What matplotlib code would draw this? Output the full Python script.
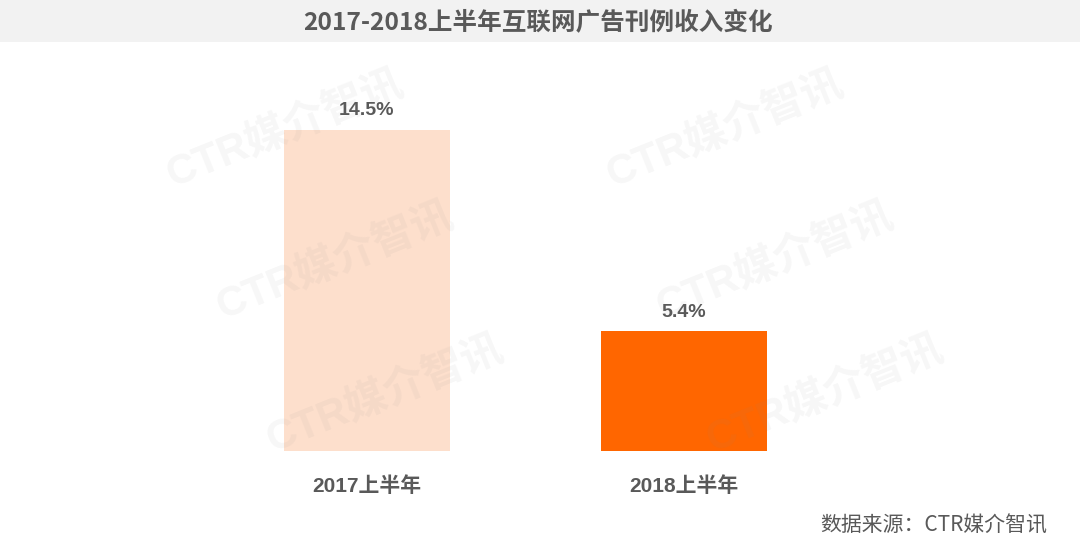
import matplotlib
matplotlib.use("Agg")
import matplotlib.pyplot as plt
from matplotlib.patches import Rectangle

plt.rcParams['font.family'] = ['Liberation Sans', 'Noto Sans CJK SC', 'DejaVu Sans']

title = "2017-2018上半年互联网广告刊例收入变化"
categories = ["2017上半年", "2018上半年"]
values = [14.5, 5.4]
value_labels = ["14.5%", "5.4%"]
bar_colors = ["#FDDFCC", "#FF6600"]
source = "数据来源：CTR媒介智讯"
watermark = "CTR媒介智讯"

W, H = 1080, 554
fig = plt.figure(figsize=(W / 100, H / 100), dpi=100)
fig.patch.set_facecolor("white")

# Title band
fig.patches.append(Rectangle((0, 1 - 42 / H), 1, 42 / H, transform=fig.transFigure,
                             facecolor="#F2F2F2", edgecolor="none", zorder=0))
fig.text(538 / W, 1 - 23 / H, title, ha="center", va="center", fontsize=17.7,
         fontweight="bold", color="#595959", family=['Noto Sans CJK SC', 'DejaVu Sans'])

# Axes geometry
spacing = 316.5
left_px = 367 - 0.7 * spacing
bottom_px = 451
top_px = 60
px_per_unit = (451 - 130) / 14.5
ax = fig.add_axes([left_px / W, (H - bottom_px) / H, 2.4 * spacing / W, (bottom_px - top_px) / H])
ax.set_xlim(-0.7, 1.7)
ax.set_ylim(0, (bottom_px - top_px) / px_per_unit)
ax.axis("off")
ax.patch.set_alpha(0)

x = list(range(len(categories)))
ax.bar(x, values, width=166 / spacing, color=bar_colors, zorder=2)
for xi, v, lab in zip(x, values, value_labels):
    ax.annotate(lab, (xi, v), xytext=(0, 14), textcoords="offset points", ha="center",
                va="center", fontsize=14, fontweight="bold", color="#595959")
for xi, cat in zip(x, categories):
    ax.annotate(cat, (xi, 0), xytext=(0, -25), textcoords="offset points", ha="center",
                va="center", fontsize=15, fontweight="bold", color="#595959",
                annotation_clip=False)

# Source
fig.text(1047 / W, 1 - 526 / H, source, ha="right", va="center", fontsize=15,
         color="#595959", family=['Noto Sans CJK SC', 'DejaVu Sans'])

# Watermarks
wm_centers = [(285, 130), (725, 130), (335, 262), (775, 262), (385, 395), (825, 395)]
for cx, cy in wm_centers:
    fig.text(cx / W, 1 - cy / H, watermark, ha="center", va="center", fontsize=30,
             fontweight="bold", color="#888888", alpha=0.07, rotation=22,
             rotation_mode="anchor", zorder=5,
             family=['Liberation Sans', 'Noto Sans CJK SC'])

fig.savefig("out.png", dpi=100, facecolor="white")
